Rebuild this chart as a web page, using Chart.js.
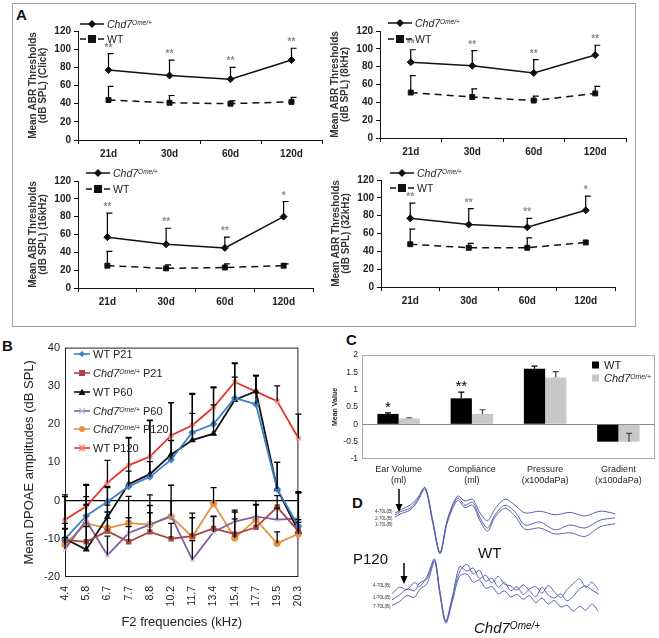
<!DOCTYPE html>
<html>
<head>
<meta charset="utf-8">
<script src="https://cdn.jsdelivr.net/npm/chart.js@4.4.1/dist/chart.umd.min.js"></script>
<style>
  body { margin: 0; background: #fff; font-family: Arial, "Liberation Sans", sans-serif; color: #111; }
  #page { position: relative; width: 659px; height: 638px; overflow: hidden; }
  canvas, .t, .leg { position: absolute; }
  .lbl { font-weight: bold; font-size: 15px; }
  .boxA { position: absolute; left: 12px; top: 3px; width: 622px; height: 322px; border: 1px solid #a0a0a0; }
  .leg { display: flex; align-items: center; white-space: nowrap; height: 14px; }
  .leg svg { margin-right: 3px; }
  .it { font-style: italic; }
  sup { font-size: 62%; vertical-align: 0.45em; line-height: 0; }
  .aleg { font-size: 10.5px; color: #222; }
  .bleg { font-size: 11px; color: #222; }
  .ch { font-size: 4.5px; color: #333; }
</style>
</head>
<body>
<div id="page">
  <div class="boxA"></div>
  <div class="t lbl" style="left:16px;top:6px">A</div>
  <div class="t lbl" style="left:2px;top:337px">B</div>
  <div class="t lbl" style="left:346px;top:331px">C</div>
  <div class="t lbl" style="left:352px;top:494px">D</div>

  <canvas id="abrClick" width="312" height="147" style="left:18px;top:18px"></canvas>
  <canvas id="abr8" width="314" height="145" style="left:320px;top:18px"></canvas>
  <canvas id="abr16" width="303" height="145" style="left:18px;top:168px"></canvas>
  <canvas id="abr32" width="302" height="145" style="left:321px;top:167px"></canvas>
  <canvas id="dpoae" width="320" height="302" style="left:0px;top:336px"></canvas>
  <canvas id="tymp" width="328" height="156" style="left:330px;top:343px"></canvas>
  <canvas id="wave1" width="225" height="72" style="left:395px;top:486px"></canvas>
  <canvas id="wave2" width="212" height="72" style="left:392px;top:556px"></canvas>

  <!-- panel A legends -->
  <div class="leg aleg" style="left:80px;top:17px"><svg width="24" height="10"><line x1="0" y1="5" x2="24" y2="5" stroke="#111" stroke-width="1.5"/><path d="M12 1 L16 5 L12 9 L8 5Z" fill="#111"/></svg><span class="it">Chd7<sup>Ome/+</sup></span></div>
  <div class="leg aleg" style="left:80px;top:32px"><svg width="24" height="10"><line x1="0" y1="5" x2="24" y2="5" stroke="#111" stroke-width="1.5" stroke-dasharray="6 3"/><rect x="8" y="1" width="8" height="8" fill="#111"/></svg><span>WT</span></div>
  <div class="leg aleg" style="left:388px;top:16px"><svg width="24" height="10"><line x1="0" y1="5" x2="24" y2="5" stroke="#111" stroke-width="1.5"/><path d="M12 1 L16 5 L12 9 L8 5Z" fill="#111"/></svg><span class="it">Chd7<sup>Ome/+</sup></span></div>
  <div class="leg aleg" style="left:388px;top:32px"><svg width="24" height="10"><line x1="0" y1="5" x2="24" y2="5" stroke="#111" stroke-width="1.5" stroke-dasharray="6 3"/><rect x="8" y="1" width="8" height="8" fill="#111"/></svg><span>WT</span></div>
  <div class="leg aleg" style="left:86px;top:166px"><svg width="24" height="10"><line x1="0" y1="5" x2="24" y2="5" stroke="#111" stroke-width="1.5"/><path d="M12 1 L16 5 L12 9 L8 5Z" fill="#111"/></svg><span class="it">Chd7<sup>Ome/+</sup></span></div>
  <div class="leg aleg" style="left:86px;top:182px"><svg width="24" height="10"><line x1="0" y1="5" x2="24" y2="5" stroke="#111" stroke-width="1.5" stroke-dasharray="6 3"/><rect x="8" y="1" width="8" height="8" fill="#111"/></svg><span>WT</span></div>
  <div class="leg aleg" style="left:390px;top:166px"><svg width="24" height="10"><line x1="0" y1="5" x2="24" y2="5" stroke="#111" stroke-width="1.5"/><path d="M12 1 L16 5 L12 9 L8 5Z" fill="#111"/></svg><span class="it">Chd7<sup>Ome/+</sup></span></div>
  <div class="leg aleg" style="left:390px;top:181px"><svg width="24" height="10"><line x1="0" y1="5" x2="24" y2="5" stroke="#111" stroke-width="1.5" stroke-dasharray="6 3"/><rect x="8" y="1" width="8" height="8" fill="#111"/></svg><span>WT</span></div>

  <!-- panel B legend -->
  <div class="leg bleg" style="left:74px;top:347px"><svg width="16" height="10"><line x1="0" y1="5" x2="16" y2="5" stroke="#3f7fc4" stroke-width="1.6"/><path d="M8 2 L11 5 L8 8 L5 5Z" fill="#3f7fc4"/></svg><span>WT P21</span></div>
  <div class="leg bleg" style="left:74px;top:366px"><svg width="16" height="10"><line x1="0" y1="5" x2="16" y2="5" stroke="#ab4643" stroke-width="1.6"/><rect x="5" y="2" width="6" height="6" fill="#ab4643"/></svg><span><span class="it">Chd7<sup>Ome/+</sup></span> P21</span></div>
  <div class="leg bleg" style="left:74px;top:385px"><svg width="16" height="10"><line x1="0" y1="5" x2="16" y2="5" stroke="#111" stroke-width="1.6"/><path d="M8 1.5 L11.5 8 L4.5 8Z" fill="#111"/></svg><span>WT P60</span></div>
  <div class="leg bleg" style="left:74px;top:404px"><svg width="16" height="10"><line x1="0" y1="5" x2="16" y2="5" stroke="#7e62a3" stroke-width="1.6"/><path d="M5 2 L11 8 M11 2 L5 8" stroke="#c8b8e0" stroke-width="1.3"/></svg><span><span class="it">Chd7<sup>Ome/+</sup></span> P60</span></div>
  <div class="leg bleg" style="left:74px;top:422px"><svg width="16" height="10"><line x1="0" y1="5" x2="16" y2="5" stroke="#e5923f" stroke-width="1.6"/><circle cx="8" cy="5" r="3" fill="#e5923f"/></svg><span><span class="it">Chd7<sup>Ome/+</sup></span> P120</span></div>
  <div class="leg bleg" style="left:74px;top:441px"><svg width="16" height="10"><line x1="0" y1="5" x2="16" y2="5" stroke="#e8322b" stroke-width="1.6"/><path d="M5 2 L11 8 M11 2 L5 8 M8 1.5 L8 8.5" stroke="#f08a86" stroke-width="1.2"/></svg><span>WT P120</span></div>

  <!-- panel C legend -->
  <div class="leg bleg" style="left:592px;top:358px;font-size:11px"><svg width="9" height="10"><rect x="0" y="1.5" width="7" height="7" fill="#000"/></svg><span>WT</span></div>
  <div class="leg bleg" style="left:592px;top:371px;font-size:11px"><svg width="9" height="10"><rect x="0" y="1.5" width="7" height="7" fill="#c8c8c8"/></svg><span class="it">Chd7<sup>Ome/+</sup></span></div>

  <!-- panel D texts -->
  <div class="t ch" style="left:375px;top:509px">4-70L(B)</div>
  <div class="t ch" style="left:375px;top:516px">2-70L(B)</div>
  <div class="t ch" style="left:375px;top:522px">1-70L(B)</div>
  <div class="t ch" style="left:373px;top:583px">4-70L(B)</div>
  <div class="t ch" style="left:373px;top:595px">1-70L(B)</div>
  <div class="t ch" style="left:373px;top:604px">7-70L(B)</div>
  <svg class="t" style="left:394px;top:489px" width="10" height="24"><line x1="5" y1="0" x2="5" y2="17" stroke="#000" stroke-width="1.5"/><path d="M1.5 15 L5 23 L8.5 15Z" fill="#000"/></svg>
  <svg class="t" style="left:399px;top:563px" width="10" height="22"><line x1="5" y1="0" x2="5" y2="15" stroke="#000" stroke-width="1.5"/><path d="M1.5 13 L5 21 L8.5 13Z" fill="#000"/></svg>
  <div class="t" style="left:353px;top:550px;font-size:15px">P120</div>
  <div class="t" style="left:478px;top:544px;font-size:15px">WT</div>
  <div class="t it" style="left:474px;top:619px;font-size:15px">Chd7<sup style="font-size:10px">Ome/+</sup></div>
</div>

<script>
// ---- panel A: ABR thresholds ----
const ages = ['21d', '30d', '60d', '120d'];

const clickChd = [77, 71, 67, 88];
const clickChdErr = [18, 17, 13, 13];
const clickWt = [44, 41, 40, 42];
const clickWtErr = [15, 8, 3, 5];
const clickStars = ['**', '**', '**', '**'];

const k8Chd = [85, 81, 73, 93];
const k8ChdErr = [14, 17, 15, 11];
const k8Wt = [51, 46, 42, 50];
const k8WtErr = [19, 9, 5, 8];
const k8Stars = ['**', '**', '**', '**'];

const k16Chd = [57, 49, 45, 80];
const k16ChdErr = [27, 18, 12, 17];
const k16Wt = [25, 22, 23, 25];
const k16WtErr = [16, 4, 4, 2];
const k16Stars = ['**', '**', '**', '*'];

const k32Chd = [77, 70, 67, 86];
const k32ChdErr = [17, 18, 10, 16];
const k32Wt = [48, 44, 44, 50];
const k32WtErr = [17, 5, 11, 0];
const k32Stars = ['**', '**', '**', '*'];

// ---- panel B: DPOAE ----
const freqs = ['4.4', '5.8', '6.7', '7.7', '8.8', '10.2', '11.7', '13.4', '15.4', '17.7', '19.5', '20.3'];
const wtP21   = [-10, -4, -0.3, 3.7, 6.2, 10.7, 17.8, 20, 26.8, 25.2, 3, -6.7];
const chdP21  = [-10.3, -10.8, -8, -10.8, -8.2, -10, -9.3, -7.3, -8.8, -7, -1.7, -8];
const wtP60   = [-10, -12.8, -4.3, 4.3, 6.9, 12, 15.8, 17.5, 26.3, 28.6, 3, -8];
const chdP60  = [-12.7, -5.2, -14.3, -8.5, -6.3, -4, -15.5, -8.2, -5.5, -4.2, -5, -4.7];
const chdP120 = [-11.5, -6, -7.2, -5.9, -6.3, -4.2, -9.5, -0.8, -9.8, -5, -11.2, -8.7];
const wtP120  = [-5, -1.5, 4.7, 9.2, 11.5, 17, 19.7, 24.4, 31, 28.5, 26, 16.3];

const wtP21Err   = [4, 5, 4, 4, 4, 5, 5, 5, 9, 7.5, 7, 9];
const chdP21Err  = [3, 4, 5, 4, 5, 4, 6, 3.2, 5.8, 7, 3, 3];
const wtP60Err   = [11, 17, 7.7, 12, 14, 13.6, 12, 12, 6, 4, 7, 10];
const chdP60Err  = [3, 4, 5, 4, 5, 4, 5, 4, 3, 3, 3, 6.7];
const chdP120Err = [4, 5, 6, 7, 7.8, 8.2, 5, 4.2, 5, 4, 3, 3];
const wtP120Err  = [6.5, 5.5, 5.8, 7.3, 9.5, 8.6, 8.3, 5.3, 5, 4.2, 4, 6.3];

// ---- panel C: tympanometry ----
const tympCats = [['Ear Volume', '(ml)'], ['Compliance', '(ml)'], ['Pressure', '(x100daPa)'], ['Gradient', '(x100daPa)']];
const tympWt = [0.3, 0.75, 1.6, -0.5];
const tympWtErr = [0.03, 0.18, 0.08, 0];
const tympChd = [0.17, 0.3, 1.35, -0.5];
const tympChdErr = [0.02, 0.12, 0.17, 0.24];
const tympStars = ['*', '**', '', ''];

// ---- panel D: ABR waveforms (ms / uV) ----
const wtTime = [0, 0.2, 0.6, 0.9, 1.2, 1.5, 1.8, 2.1, 2.5, 2.8, 3.1, 3.4, 3.7, 4.0, 4.4, 4.8, 5.2, 5.8, 6.4, 7.0, 7.6, 8.2, 8.8];
const wtWave1 = [1.5, 2, 2.8, 4, 5.8, 0.5, -5, 0.5, 4.3, 3.5, 3.8, 1.5, 0.2, 2.2, 3.8, 2.8, 1.5, 1.8, 1.2, 1.6, 1.0, 1.8, 1.4];
const wtWave2 = [1.2, 1.7, 2.3, 3.7, 5.7, 0.3, -5.2, 0.3, 4, 2.8, 3.3, 0.7, -1, 1.2, 2.8, 1.7, -0.5, 0, -1.3, -0.5, -1, 0.3, 0.7];
const wtWave3 = [0.8, 1.3, 2, 3.4, 5.5, 0, -5.3, 0, 3.6, 2.4, 2.8, 0.2, -1.5, 0.8, 2.3, 1, -1.2, -1, -2, -1.8, -2.4, -0.8, -0.3];

const chdTime = [0, 0.3, 0.6, 0.9, 1.1, 1.4, 1.7, 1.9, 2.15, 2.4, 2.7, 3.0, 3.25, 3.5, 3.75, 4.0, 4.25, 4.5, 4.75, 5.0, 5.25, 5.5, 5.75, 6.0, 6.25, 6.5, 6.75, 7.0, 7.25, 7.5, 7.75, 8.0, 8.25];
const chdWave1 = [-1.3, -0.5, 0.5, 0.2, 1.5, 2.2, 5.3, 0.3, -5.0, -1.3, 4.2, 3.5, 4.0, 2.2, 2.8, 1.5, 2.6, 1.3, 1.0, 0.3, 1.2, 0.2, -0.8, 0.8, -0.5, -1.0, -0.3, -1.5, -0.7, 0.5, 1.0, 0.3, -0.3];
const chdWave2 = [-0.3, 0.8, 0.4, 1.6, 0.9, 2.6, 5.5, 0.6, -4.8, -1.0, 3.3, 4.6, 3.0, 3.6, 1.8, 2.3, 0.8, 1.6, 0.2, 0.9, -0.4, 0.5, 0.9, -0.2, 1.1, 0.0, -0.9, 0.4, 1.4, 2.2, 0.8, 1.6, 0.4];
const chdWave3 = [-2.2, -1.6, -0.6, -0.9, 0.4, 1.4, 5.0, 0.0, -5.2, -1.8, 2.6, 3.0, 1.6, 2.0, 0.6, 0.9, -0.3, 0.2, -0.8, -0.4, -1.2, -0.6, -1.8, -1.0, -2.0, -1.4, -2.5, -2.2, -3.2, -2.4, -3.0, -2.0, -3.2];

const FONT = 'Arial, "Liberation Sans", sans-serif';
Chart.defaults.font.family = FONT;

// error bars (upward) + significance stars
const errorBars = {
  id: 'errorBars',
  afterDatasetsDraw(chart) {
    const { ctx } = chart;
    chart.data.datasets.forEach((ds, di) => {
      if (!ds.errUp) return;
      const meta = chart.getDatasetMeta(di);
      const ys = chart.scales[meta.yAxisID];
      const capL = ds.capL ?? 3, capR = ds.capR ?? 3;
      ctx.save();
      ctx.strokeStyle = ds.errColor || '#000';
      ctx.lineWidth = ds.errWidth || 1.2;
      meta.data.forEach((pt, i) => {
        const e = ds.errUp[i];
        const top = ys.getPixelForValue(ds.data[i] + (e || 0));
        if (e) {
          ctx.beginPath();
          ctx.moveTo(pt.x, ys.getPixelForValue(ds.data[i]));
          ctx.lineTo(pt.x, top);
          ctx.moveTo(pt.x - capL, top);
          ctx.lineTo(pt.x + capR, top);
          ctx.stroke();
        }
        if (ds.stars && ds.stars[i]) {
          ctx.fillStyle = ds.starColor || '#000';
          ctx.font = ds.starFont || 'bold 10px ' + FONT;
          ctx.textAlign = 'center';
          ctx.textBaseline = 'alphabetic';
          ctx.fillText(ds.stars[i], pt.x, top - (ds.starGap ?? -4));
        }
      });
      ctx.restore();
    });
  }
};

// box around the plot area
const frame = {
  id: 'frame',
  beforeDatasetsDraw(chart, args, opts) {
    if (!opts.color) return;
    const { ctx, chartArea: a } = chart;
    ctx.save();
    ctx.strokeStyle = opts.color;
    ctx.lineWidth = 1;
    ctx.strokeRect(a.left + 0.5, a.top + 0.5, a.width - 1, a.height - 1);
    ctx.restore();
  }
};

function abrChart(id, sub, chd, chdErr, wt, wtErr, stars) {
  return new Chart(document.getElementById(id), {
    type: 'line',
    data: {
      labels: ages,
      datasets: [
        { label: 'Chd7', data: chd, errUp: chdErr, stars: stars, starColor: '#8a8a8a', starGap: 3,
          capL: 1, capR: 5, borderColor: '#111', backgroundColor: '#111', borderWidth: 1.5,
          pointStyle: 'rectRot', pointRadius: 3.5, pointBorderWidth: 1 },
        { label: 'WT', data: wt, errUp: wtErr, capL: 1, capR: 5,
          borderColor: '#111', backgroundColor: '#111', borderWidth: 1.5, borderDash: [7, 5],
          pointStyle: 'rect', pointRadius: 3.5, pointBorderWidth: 1 }
      ]
    },
    options: {
      responsive: false, animation: false,
      layout: { padding: { top: 13, right: 8, left: 0, bottom: 0 } },
      plugins: { legend: { display: false }, tooltip: { enabled: false } },
      scales: {
        x: {
          offset: true,
          grid: { offset: true, drawOnChartArea: false, color: '#111', tickLength: 4 },
          border: { color: '#111' },
          ticks: { font: { size: 10, weight: 'bold' }, color: '#222', padding: 4 },
          afterFit: s => { s.height = 25; }
        },
        y: {
          min: 0, max: 120,
          ticks: { stepSize: 20, font: { size: 10, weight: 'bold' }, color: '#222', padding: 3 },
          grid: { drawOnChartArea: false, color: '#111', tickLength: 4 },
          border: { color: '#111' },
          title: { display: true, text: ['Mean ABR Thresholds', sub], color: '#333',
                   font: { size: 10, weight: 'bold', lineHeight: 1 }, padding: { top: 10, bottom: 0 } },
          afterFit: s => { s.width = 60; }
        }
      }
    },
    plugins: [errorBars]
  });
}

abrChart('abrClick', '(dB SPL) (Click)', clickChd, clickChdErr, clickWt, clickWtErr, clickStars);
abrChart('abr8', '(dB SPL) (8kHz)', k8Chd, k8ChdErr, k8Wt, k8WtErr, k8Stars);
abrChart('abr16', '(dB SPL) (16kHz)', k16Chd, k16ChdErr, k16Wt, k16WtErr, k16Stars);
abrChart('abr32', '(dB SPL) (32kHz)', k32Chd, k32ChdErr, k32Wt, k32WtErr, k32Stars);

// ---- B ----
function dpSet(label, data, err, color, style, pointColor) {
  return {
    label, data, errUp: err, errColor: '#000', errWidth: 1.3,
    borderColor: color, backgroundColor: pointColor || color, pointBorderColor: pointColor || color,
    borderWidth: 1.8, pointStyle: style, pointRadius: 3, pointBorderWidth: 1.2
  };
}

new Chart(document.getElementById('dpoae'), {
  type: 'line',
  data: {
    labels: freqs,
    datasets: [
      dpSet('WT P21', wtP21, wtP21Err, '#3f7fc4', 'rectRot'),
      dpSet('Chd7 P21', chdP21, chdP21Err, '#ab4643', 'rect'),
      dpSet('WT P60', wtP60, wtP60Err, '#111', 'triangle'),
      dpSet('Chd7 P60', chdP60, chdP60Err, '#7e62a3', 'crossRot', '#c8b8e0'),
      dpSet('Chd7 P120', chdP120, chdP120Err, '#e5923f', 'circle'),
      dpSet('WT P120', wtP120, wtP120Err, '#e8322b', 'star', '#f08a86')
    ]
  },
  options: {
    responsive: false, animation: false,
    layout: { padding: { top: 9, right: 8, left: 0, bottom: 0 } },
    plugins: { legend: { display: false }, tooltip: { enabled: false }, frame: { color: '#222' } },
    scales: {
      x: {
        grid: { display: false, drawTicks: false }, border: { display: false },
        ticks: { minRotation: 90, maxRotation: 90, font: { size: 10.5 }, color: '#222', padding: 9 },
        title: { display: true, text: 'F2 frequencies (kHz)', font: { size: 13 }, color: '#222', padding: { top: 4, bottom: 8 } },
        afterFit: s => { s.height = 61; }
      },
      y: {
        min: -20, max: 40,
        ticks: { stepSize: 10, font: { size: 11 }, color: '#222', padding: 5 },
        grid: { color: c => c.tick.value === 0 ? '#000' : 'rgba(0,0,0,0)', drawTicks: false, lineWidth: 1.2 },
        border: { display: false },
        title: { display: true, text: 'Mean DPOAE amplitudes (dB SPL)', font: { size: 13 }, color: '#222', padding: { top: 22, bottom: 0 } },
        afterFit: s => { s.width = 65; }
      }
    }
  },
  plugins: [frame, errorBars]
});

// ---- C ----
new Chart(document.getElementById('tymp'), {
  type: 'bar',
  data: {
    labels: tympCats,
    datasets: [
      { label: 'WT', data: tympWt, errUp: tympWtErr, stars: tympStars, starFont: '15px ' + FONT, starGap: 1,
        backgroundColor: '#000', categoryPercentage: 0.58, barPercentage: 1.0 },
      { label: 'Chd7', data: tympChd, errUp: tympChdErr, errColor: '#444',
        backgroundColor: '#c8c8c8', categoryPercentage: 0.58, barPercentage: 1.0 }
    ]
  },
  options: {
    responsive: false, animation: false,
    layout: { padding: { top: 12, right: 3, left: 0, bottom: 0 } },
    plugins: { legend: { display: false }, tooltip: { enabled: false }, frame: { color: '#aaa' } },
    scales: {
      x: {
        grid: { display: false, drawTicks: false }, border: { display: false },
        ticks: { font: { size: 9 }, color: '#222', padding: 5 },
        afterFit: s => { s.height = 40; }
      },
      y: {
        min: -1, max: 2,
        ticks: { stepSize: 0.5, font: { size: 8.5 }, color: '#222', padding: 4, callback: v => String(v) },
        grid: { color: c => c.tick.value === 0 ? '#888' : 'rgba(0,0,0,0)', drawTicks: false },
        border: { display: false },
        title: { display: true, text: 'Mean Value', font: { size: 7, weight: 'bold' }, color: '#222', padding: { top: 1, bottom: 0 } },
        afterFit: s => { s.width = 32; }
      }
    }
  },
  plugins: [frame, errorBars]
});

// ---- D ----
function waveChart(id, time, waves, xMax) {
  return new Chart(document.getElementById(id), {
    type: 'line',
    data: {
      labels: time,
      datasets: waves.map((w, i) => ({
        label: 'trace ' + (i + 1), data: w, borderColor: '#5a5fae', borderWidth: 1,
        pointRadius: 0, tension: 0.3, fill: false
      }))
    },
    options: {
      responsive: false, animation: false,
      layout: { padding: 0 },
      plugins: { legend: { display: false }, tooltip: { enabled: false } },
      scales: {
        x: { type: 'linear', min: 0, max: xMax, display: false },
        y: { min: -6, max: 6, display: false }
      }
    }
  });
}

waveChart('wave1', wtTime, [wtWave1, wtWave2, wtWave3], 9);
waveChart('wave2', chdTime, [chdWave1, chdWave2, chdWave3], 8.48);
</script>
</body>
</html>
